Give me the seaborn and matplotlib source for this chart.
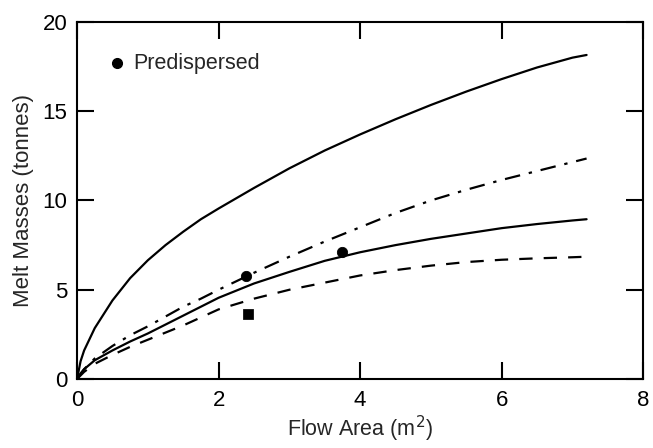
import matplotlib
matplotlib.use("Agg")
import matplotlib.pyplot as plt
import seaborn as sns
import pandas as pd

sns.set_theme(style="white")
plt.rcParams['font.family'] = ['Liberation Sans', 'DejaVu Sans']

flow_area = [0, 0.05, 0.1, 0.25, 0.5, 0.75, 1, 1.25, 1.5, 1.75, 2, 2.5, 3, 3.5, 4, 4.5, 5, 5.5, 6, 6.5, 7, 7.2]
upper_solid = [0, 1.0, 1.6, 2.85, 4.4, 5.65, 6.65, 7.5, 8.25, 8.95, 9.55, 10.7, 11.8, 12.8, 13.7, 14.55, 15.35, 16.1, 16.8, 17.45, 18.0, 18.15]
dash_dot = [0, 0.3, 0.55, 1.15, 1.85, 2.45, 2.95, 3.5, 4.05, 4.5, 5.0, 5.95, 6.85, 7.7, 8.5, 9.3, 10.0, 10.6, 11.15, 11.65, 12.15, 12.35]
middle_solid = [0, 0.3, 0.55, 1.05, 1.6, 2.1, 2.55, 3.05, 3.55, 4.05, 4.55, 5.35, 6.0, 6.62, 7.1, 7.5, 7.85, 8.15, 8.45, 8.68, 8.88, 8.95]
dashed = [0, 0.2, 0.4, 0.85, 1.35, 1.8, 2.2, 2.6, 3.0, 3.45, 3.9, 4.5, 5.0, 5.4, 5.8, 6.1, 6.35, 6.55, 6.68, 6.76, 6.82, 6.85]

circle_x = [2.39, 3.75]
circle_y = [5.75, 7.1]
square_x = [2.42]
square_y = [3.65]

x_ticks = [0, 2, 4, 6, 8]
y_ticks = [0, 5, 10, 15, 20]

df = pd.DataFrame({"x": flow_area, "upper": upper_solid, "dashdot": dash_dot,
                   "middle": middle_solid, "dashed": dashed})

fig = plt.figure(figsize=(6.53, 4.48), dpi=100)
ax = fig.add_axes([0.118, 0.154, 0.867, 0.797])

lw = 1.6
sns.lineplot(data=df, x="x", y="upper", ax=ax, color="black", lw=lw)
sns.lineplot(data=df, x="x", y="middle", ax=ax, color="black", lw=lw)
sns.lineplot(data=df, x="x", y="dashdot", ax=ax, color="black", lw=lw)
ax.lines[-1].set_dashes([7, 4, 1.5, 4])
sns.lineplot(data=df, x="x", y="dashed", ax=ax, color="black", lw=lw)
ax.lines[-1].set_dashes([6, 5])

sns.scatterplot(x=circle_x, y=circle_y, ax=ax, color="black", marker="o", s=55, edgecolor="black")
sns.scatterplot(x=square_x, y=square_y, ax=ax, color="black", marker="s", s=45, edgecolor="black")

# legend
ax.plot([0.57], [17.7], marker="o", color="black", ms=7)
ax.text(0.80, 17.7, "Predispersed", fontsize=15.5, va="center", ha="left")

ax.set_xlim(0, 8)
ax.set_ylim(0, 20)
ax.set_xticks(x_ticks)
ax.set_yticks(y_ticks)
ax.set_xlabel("Flow Area (m$^2$)", fontsize=15.5, labelpad=2)
ax.set_ylabel("Melt Masses (tonnes)", fontsize=16, labelpad=6)
ax.tick_params(direction="in", length=12, width=1.5, labelsize=16, top=True, right=True,
               bottom=True, left=True, colors="black")
ax.tick_params(axis="x", pad=8)
ax.tick_params(axis="y", pad=7)
for s in ax.spines.values():
    s.set_color("black")
    s.set_linewidth(1.5)

fig.savefig("out.png", dpi=100)
